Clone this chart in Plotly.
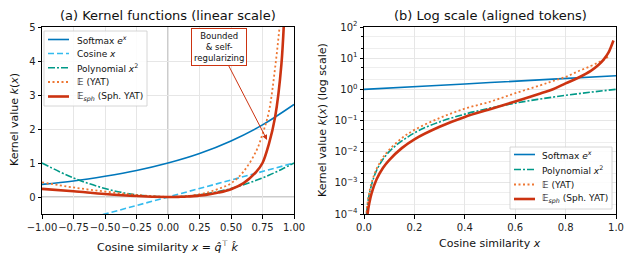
import plotly.graph_objects as go

# ---------------- data ----------------
X_SOFTMAX = [-1.0, -0.75, -0.5, -0.25, 0.0, 0.25, 0.5, 0.75, 1.0]
Y_SOFTMAX = [0.37, 0.47, 0.61, 0.78, 1.0, 1.28, 1.65, 2.12, 2.72]

X_COSINE = [-1.0, 1.0]
Y_COSINE = [-1.0, 1.0]

X_POLY = [-1.0, -0.75, -0.5, -0.25, 0.0, 0.01, 0.02, 0.05, 0.1, 0.2, 0.3, 0.4,
          0.5, 0.6, 0.7, 0.8, 0.9, 1.0]
Y_POLY = [1.0, 0.56, 0.25, 0.06, 0.0, 0.0001, 0.0004, 0.0025, 0.01, 0.04, 0.09,
          0.16, 0.25, 0.36, 0.49, 0.64, 0.81, 1.0]

X_YAT = [-1.0, -0.75, -0.5, -0.25, 0.0, 0.01, 0.015, 0.02, 0.03, 0.05, 0.075,
         0.1, 0.15, 0.2, 0.3, 0.4, 0.5, 0.6, 0.7, 0.75, 0.8, 0.85, 0.9, 0.93,
         0.95, 0.97]
Y_YAT = [0.43, 0.28, 0.16, 0.06, 0.0, 0.00011, 0.00025, 0.00045, 0.001, 0.0028,
         0.0064, 0.0115, 0.027, 0.05, 0.12, 0.24, 0.40, 0.75, 1.35, 1.85, 2.5,
         3.8, 5.6, 7.3, 8.8, 11.5]

X_SPH = [-1.0, -0.75, -0.5, -0.25, 0.0, 0.01, 0.015, 0.02, 0.03, 0.05, 0.075,
         0.1, 0.15, 0.2, 0.3, 0.4, 0.5, 0.6, 0.7, 0.75, 0.8, 0.85, 0.9, 0.93,
         0.95, 0.97, 0.98, 0.99]
Y_SPH = [0.24, 0.17, 0.09, 0.03, 0.0, 0.00005, 0.000114, 0.0002, 0.00046,
         0.0013, 0.003, 0.0054, 0.013, 0.025, 0.063, 0.13, 0.23, 0.41, 0.74,
         1.0, 1.55, 2.35, 3.9, 6.0, 8.8, 15.0, 23.0, 37.0]

X_TICKS_A = [-1.0, -0.75, -0.5, -0.25, 0.0, 0.25, 0.5, 0.75, 1.0]
Y_TICKS_A = [0, 1, 2, 3, 4, 5]
X_TICKS_B = [0.0, 0.2, 0.4, 0.6, 0.8, 1.0]
Y_TICKS_B_EXP = [-4, -3, -2, -1, 0, 1, 2]

NAMES = ["Softmax <i>e<sup>x</sup></i>", "Cosine <i>x</i>",
         "Polynomial <i>x</i><sup>2</sup>", "\U0001D53C (YAT)",
         "\U0001D53C<sub><i>sph</i></sub> (Sph. YAT)"]

C_BLUE, C_CYAN, C_TEAL, C_ORANGE, C_RED = "#0077BB", "#33BBEE", "#009988", "#EE7733", "#CC3311"
FONT = "DejaVu Sans"

STYLES = [
    dict(color=C_BLUE, width=1.6),
    dict(color=C_CYAN, width=1.6, dash="6px,3px"),
    dict(color=C_TEAL, width=1.6, dash="7px,2px,2px,2px"),
    dict(color=C_ORANGE, width=1.8, dash="2px,2.5px"),
    dict(color=C_RED, width=2.6),
]


def positive(xs, ys):
    px, py = [], []
    for a, b in zip(xs, ys):
        if a > 0 and b > 0:
            px.append(a)
            py.append(b)
    return px, py


def line(i, spline=True):
    d = dict(STYLES[i])
    if spline:
        d["shape"] = "spline"
    return d


fig = go.Figure()

# ---------------- panel (a) ----------------
fig.add_trace(go.Scatter(x=X_SOFTMAX, y=Y_SOFTMAX, mode="lines", name=NAMES[0],
                         line=line(0), xaxis="x", yaxis="y"))
fig.add_trace(go.Scatter(x=X_COSINE, y=Y_COSINE, mode="lines", name=NAMES[1],
                         line=line(1, False), xaxis="x", yaxis="y"))
fig.add_trace(go.Scatter(x=X_POLY, y=Y_POLY, mode="lines", name=NAMES[2],
                         line=line(2), xaxis="x", yaxis="y"))
fig.add_trace(go.Scatter(x=X_YAT, y=Y_YAT, mode="lines", name=NAMES[3],
                         line=line(3), xaxis="x", yaxis="y"))
fig.add_trace(go.Scatter(x=X_SPH, y=Y_SPH, mode="lines", name=NAMES[4],
                         line=line(4), xaxis="x", yaxis="y"))

# ---------------- panel (b) ----------------
bx, by = positive(X_SOFTMAX, Y_SOFTMAX)
fig.add_trace(go.Scatter(x=[0.0] + bx, y=[1.0] + by, mode="lines", name=NAMES[0],
                         line=line(0), xaxis="x2", yaxis="y2"))
bx, by = positive(X_POLY, Y_POLY)
fig.add_trace(go.Scatter(x=bx, y=by, mode="lines", name=NAMES[2],
                         line=line(2), xaxis="x2", yaxis="y2"))
bx, by = positive(X_YAT, Y_YAT)
fig.add_trace(go.Scatter(x=bx, y=by, mode="lines", name=NAMES[3],
                         line=line(3), xaxis="x2", yaxis="y2"))
bx, by = positive(X_SPH, Y_SPH)
fig.add_trace(go.Scatter(x=bx, y=by, mode="lines", name=NAMES[4],
                         line=line(4), xaxis="x2", yaxis="y2"))

# The page body has an 8px default margin; size the figure so it fills the window.
OFF = 8
W, H = 634 - OFF, 265 - OFF
def px_x(p):
    return (p - OFF) / W
def px_y(p):
    return 1 - (p - OFF) / H

GRID = "#e6e6e6"
axis_common = dict(showline=True, linecolor="black", linewidth=1, mirror=True,
                   ticks="outside", ticklen=3.5, tickcolor="black", tickwidth=0.8,
                   showgrid=True, gridcolor=GRID, gridwidth=0.8, zeroline=False,
                   automargin=False, tickangle=0,
                   tickfont=dict(family=FONT, size=10, color="#222"))

fig.update_layout(
    width=W, height=H, margin=dict(l=0, r=0, t=0, b=0, pad=0, autoexpand=False),
    paper_bgcolor="white", plot_bgcolor="white",
    font=dict(family=FONT, color="#222"),
    showlegend=False,
    xaxis=dict(domain=[px_x(42), px_x(294)], range=[-1, 1], tickvals=X_TICKS_A,
               ticktext=[("−" if v < 0 else "") + f"{abs(v):.2f}" for v in X_TICKS_A],
               anchor="y", **axis_common),
    yaxis=dict(domain=[px_y(214), px_y(27)], range=[-0.5, 5], tickvals=Y_TICKS_A,
               anchor="x", **axis_common),
    xaxis2=dict(domain=[px_x(364), px_x(616)], range=[0, 1], tickvals=X_TICKS_B,
                ticktext=[f"{v:.1f}" for v in X_TICKS_B], anchor="y2", **axis_common),
    yaxis2=dict(domain=[px_y(214), px_y(27)], type="log", range=[-4, 2],
                tickvals=[10.0 ** e for e in Y_TICKS_B_EXP],
                ticktext=[f"10<sup>{'−' if e < 0 else ''}{abs(e)}</sup>" for e in Y_TICKS_B_EXP],
                anchor="x2",
                minor=dict(ticks="outside", ticklen=2, tickcolor="black", showgrid=True,
                           gridcolor="#eeeeee", gridwidth=0.6),
                **axis_common),
)

# reference lines at x=0, y=0 in panel (a)
fig.add_shape(type="line", xref="x", yref="paper", x0=0, x1=0,
              y0=px_y(214), y1=px_y(27), line=dict(color="#999999", width=1), layer="below")
fig.add_shape(type="line", xref="paper", yref="y", x0=px_x(42), x1=px_x(294),
              y0=0, y1=0, line=dict(color="#999999", width=1), layer="below")


def label(text, x, y, size, angle=0):
    fig.add_annotation(text=text, xref="paper", yref="paper", x=px_x(x), y=px_y(y),
                       xanchor="center", yanchor="middle", showarrow=False,
                       textangle=angle, font=dict(family=FONT, size=size, color="#111"))


# titles
label("(a) Kernel functions (linear scale)", 168, 15, 13)
label("(b) Log scale (aligned tokens)", 490, 15, 13)

# axis labels
label("Cosine similarity <i>x</i> = <i>q\u0302</i><sup>⊤</sup> <i>k\u0302</i>", 168, 246, 11)
label("Cosine similarity <i>x</i>", 490, 243, 11)
label("Kernel value <i>k</i>(<i>x</i>)", 14, 120, 11, -90)
label("Kernel value <i>k</i>(<i>x</i>) (log scale)", 322, 120, 11, -90)

# callout
fig.add_annotation(text="Bounded<br>& self-<br>regularizing", xref="x", yref="y",
                   x=0.786, y=1.68, ax=0.405, ay=4.41, axref="x", ayref="y",
                   showarrow=True, arrowhead=2, arrowsize=1, arrowwidth=1, arrowcolor=C_RED,
                   bgcolor="white", bordercolor=C_RED, borderwidth=1, borderpad=2,
                   font=dict(family=FONT, size=8.5, color="#111"))


# compact legends (matplotlib-like boxes)
def legend_box(x0, y0, x1, y1, items, row_y, line_x0, line_x1, text_x):
    fig.add_shape(type="rect", xref="paper", yref="paper",
                  x0=px_x(x0), x1=px_x(x1), y0=px_y(y1), y1=px_y(y0),
                  line=dict(color="#cccccc", width=0.8),
                  fillcolor="rgba(255,255,255,0.85)", layer="above")
    for k, i in enumerate(items):
        yy = row_y[k]
        fig.add_shape(type="line", xref="paper", yref="paper",
                      x0=px_x(line_x0), x1=px_x(line_x1), y0=px_y(yy), y1=px_y(yy),
                      line=STYLES[i], layer="above")
        fig.add_annotation(text=NAMES[i], xref="paper", yref="paper",
                           x=px_x(text_x), y=px_y(yy), xanchor="left", yanchor="middle",
                           showarrow=False, font=dict(family=FONT, size=9, color="#111"))


legend_box(44, 31, 147, 106, [0, 1, 2, 3, 4],
           [39.5, 53.5, 67.8, 82, 96.5], 48, 69, 75)
legend_box(510, 147, 612, 209, [0, 2, 3, 4],
           [154.5, 169.5, 184.5, 199], 514, 535, 540)

fig.write_html("out.html")
